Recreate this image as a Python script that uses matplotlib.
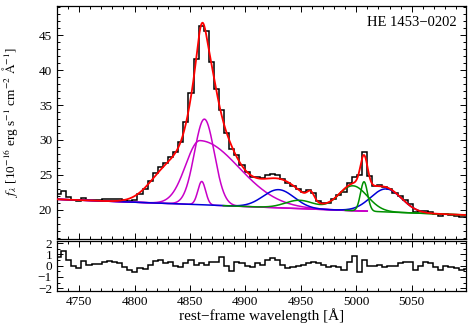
import numpy as np
import matplotlib
matplotlib.use("Agg")
import matplotlib.pyplot as plt
from matplotlib.ticker import MultipleLocator

plt.rcParams["font.family"] = ["Liberation Serif", "DejaVu Serif"]
plt.rcParams["mathtext.fontset"] = "stix"

# continuum: level at 4860 A and slope
cont_level = 20.7
cont_slope = -0.0061
# components: (centre [A], amplitude, sigma [A])
hb_narrow = (4860.6, 3.35, 3.5)
hb_inter = (4863.0, 12.3, 9.0)
hb_broad = (4859.0, 9.2, 13.0, 35.0)          # split gaussian: sigma blue / red
hb_wing = [(4832.0, 5.2, 17.0), (4880.0, 2.2, 10.0)]   # only in the total
fe_lines = [(4930.0, 2.6, 14.0), (5027.0, 3.3, 14.0)]
oiii_broad = [(4949.0, 1.19, 13.0), (4997.0, 3.56, 13.0)]
oiii_narrow = [(4959.0, 1.2, 3.2), (5007.0, 4.2, 3.2)]

# observed spectrum, 4.6 A bins from 4729 A
bin_start, bin_width = 4729.0, 4.6
flux = [22.21, 22.63, 21.88, 21.40, 21.19, 21.70, 21.41, 21.43, 21.40, 21.56,
        21.59, 21.51, 21.47, 21.32, 21.31, 21.44, 22.32, 22.91, 24.08, 25.22,
        26.15, 26.66, 27.53, 28.23, 29.68, 32.53, 36.67, 41.61, 46.40, 45.60,
        41.21, 37.32, 34.28, 31.00, 28.63, 27.80, 26.47, 25.40, 24.69, 24.70,
        24.52, 24.91, 25.10, 24.97, 24.39, 23.78, 23.35, 22.92, 22.52, 22.81,
        22.42, 21.29, 20.92, 20.98, 21.51, 22.09, 22.59, 23.79, 24.74, 24.96,
        28.27, 24.76, 23.43, 23.47, 23.20, 23.00, 22.45, 22.02, 21.46, 20.81,
        19.73, 19.78, 19.87, 19.67, 19.34, 19.03, 19.35, 19.23, 19.12, 18.95,
        18.97]
resid = [0.8, 1.3, 0.5, 0.0, -0.2, 0.4, 0.1, 0.15, 0.15, 0.35,
         0.4, 0.3, 0.2, -0.1, -0.35, -0.6, -0.2, -0.3, 0.1, 0.4,
         0.5, 0.2, 0.3, 0.0, -0.1, 0.2, 0.5, 0.05, 0.25, 0.1,
         0.3, 0.35, 0.8, 0.0, -0.5, 0.3, 0.2, 0.0, -0.15, 0.2,
         0.1, 0.5, 0.65, 0.55, 0.1, -0.2, -0.15, 0.0, 0.05, 0.2,
         0.3, 0.2, 0.05, -0.1, -0.05, -0.15, -0.4, 0.3, 0.9, -0.6,
         0.5, 0.0, -0.05, 0.1, -0.1, 0.0, -0.05, 0.2, 0.35, 0.3,
         -0.4, 0.0, 0.3, 0.2, -0.1, -0.4, 0.0, -0.1, -0.2, -0.35,
         -0.3]


def gauss(x, c, a, s):
    return a * np.exp(-0.5 * ((x - c) / s) ** 2)


def continuum(x):
    return cont_level + cont_slope * (x - 4860.0)


def broad(x):
    c, a, sb, sr = hb_broad
    return gauss(x, c, a, np.where(x < c, sb, sr))


def total(x):
    y = continuum(x) + gauss(x, *hb_narrow) + gauss(x, *hb_inter) + broad(x)
    for p in hb_wing + fe_lines + oiii_broad + oiii_narrow:
        y = y + gauss(x, *p)
    return y


edges = bin_start + bin_width * np.arange(len(flux) + 1)
x = np.linspace(4730, 5100, 1500)
cont = continuum(x)

fig = plt.figure(figsize=(4.76, 3.27), dpi=100)
ax = fig.add_axes([0.1197, 0.2691, 0.8593, 0.7126])
axr = fig.add_axes([0.1197, 0.110, 0.8593, 0.153], sharex=ax)

ax.stairs(flux, edges, color="black", lw=1.1, zorder=1)

# Hbeta components (magenta)
mag = "#c800c8"
m = x <= 5010
for comp in [gauss(x, *hb_narrow), gauss(x, *hb_inter), broad(x)]:
    ax.plot(x[m], (cont + comp)[m], color=mag, lw=1.1, zorder=2)

# FeII (blue)
fe = sum(gauss(x, *p) for p in fe_lines)
mb = x <= 5065
ax.plot(x[mb], (cont + fe)[mb], color="#0000d8", lw=1.1, zorder=3)

# [OIII] broad + narrow (green)
gr = "#009000"
mg = x >= 4880
ax.plot(x[mg], (cont + sum(gauss(x, *p) for p in oiii_broad))[mg], color=gr, lw=1.1, zorder=4)
mn = x >= 4990
ax.plot(x[mn], (cont + sum(gauss(x, *p) for p in oiii_narrow))[mn], color=gr, lw=1.1, zorder=4)

ax.plot(x, total(x), color="#ff0000", lw=1.3, zorder=5)

ax.text(0.978, 0.955, "HE 1453\u22120202", transform=ax.transAxes,
        ha="right", va="top", fontsize=10.5)
ax.set_ylabel(r"$f_\lambda$ [10$^{-16}$ erg s$^{-1}$ cm$^{-2}$ $\mathrm{\AA}^{-1}$]", fontsize=9.5)
ax.set_xlim(4730, 5099)
ax.set_ylim(15.8, 49.2)
ax.yaxis.set_major_locator(MultipleLocator(5))
ax.yaxis.set_minor_locator(MultipleLocator(1))
ax.tick_params(labelbottom=False)

axr.stairs(resid, edges, color="black", lw=1.1)
axr.set_ylim(-2.25, 2.2)
axr.yaxis.set_major_locator(MultipleLocator(1))
axr.yaxis.set_minor_locator(MultipleLocator(0.5))
axr.set_xlabel("rest\u2212frame wavelength [\u00c5]", fontsize=11, labelpad=0)

for a_ in (ax, axr):
    a_.xaxis.set_major_locator(MultipleLocator(50))
    a_.xaxis.set_minor_locator(MultipleLocator(10))
    a_.tick_params(which="both", direction="in", top=True, right=True,
                   labelsize=9.5, width=0.7)
    a_.tick_params(which="major", length=4.5)
    a_.tick_params(which="minor", length=2.3)
    for s in a_.spines.values():
        s.set_linewidth(0.9)
ax.yaxis.set_label_coords(-0.09, 0.5)

fig.savefig("out.png", dpi=100)
